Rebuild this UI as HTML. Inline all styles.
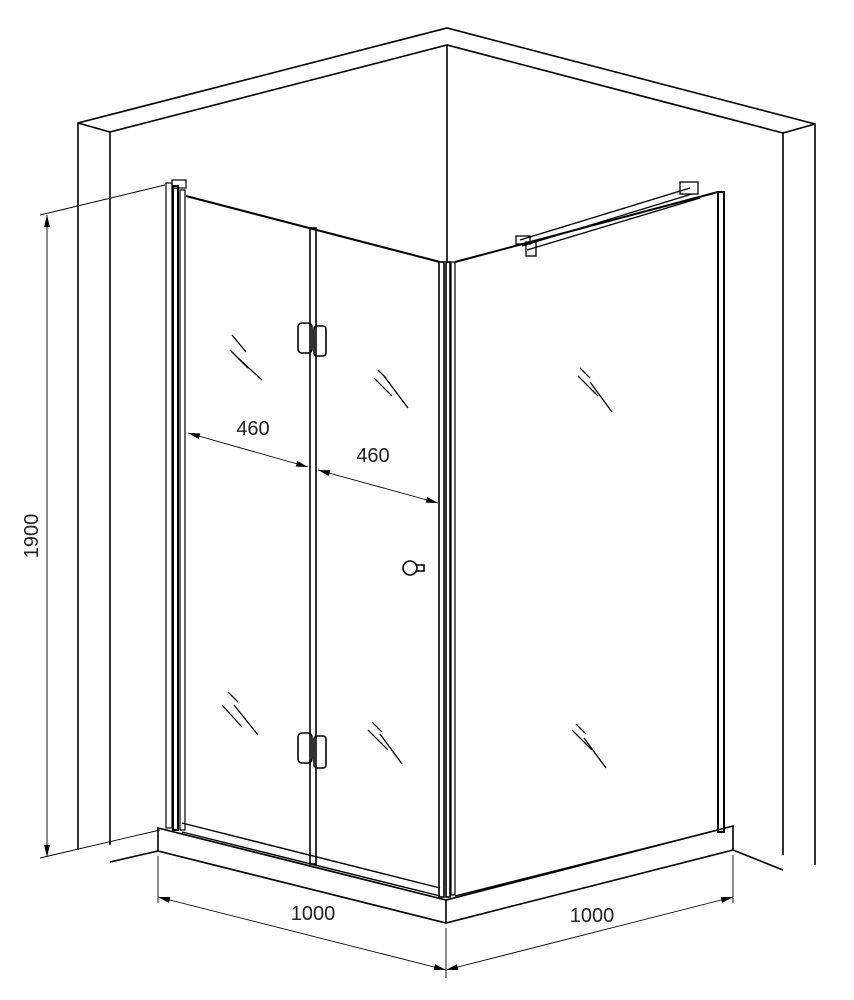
<!DOCTYPE html>
<html><head><meta charset="utf-8"><style>html,body{margin:0;padding:0;background:#fff}svg{display:block}</style></head>
<body>
<svg width="854" height="1000" viewBox="0 0 854 1000" xmlns="http://www.w3.org/2000/svg" font-family="Liberation Sans, sans-serif">
<defs>
<marker id="a" markerWidth="12" markerHeight="8" refX="12" refY="4" orient="auto" markerUnits="userSpaceOnUse"><path d="M0,1 L12,4 L0,7 Z" fill="#000"/></marker>
<marker id="b" markerWidth="12" markerHeight="8" refX="0" refY="4" orient="auto" markerUnits="userSpaceOnUse"><path d="M12,1 L0,4 L12,7 Z" fill="#000"/></marker>
</defs>
<g fill="none" stroke="#000" stroke-width="1.6">
<!-- walls -->
<path d="M78,850 L78,123 L447,28 L815,124 L815,865"/>
<path d="M110,845 L110,132 L447,45 L783,133 L783,855"/>
<path d="M78,123 L110,132 M815,124 L783,133"/>
<line x1="447" y1="45" x2="447" y2="262"/>
<!-- tray -->
<path d="M158,828 L446,900 L733,826 L733,850 L446,923 L158,851 Z"/>
<line x1="446" y1="900" x2="446" y2="923"/>
<line x1="158" y1="851" x2="110" y2="862"/>
<line x1="733" y1="850" x2="783" y2="870"/>
<!-- left posts -->
<rect x="166" y="183" width="6" height="645" stroke-width="1.2"/>
<rect x="173" y="186" width="5" height="644" stroke-width="2"/>
<rect x="180" y="190" width="5" height="640" stroke-width="1.2"/>
<rect x="172" y="180" width="14" height="8" stroke-width="1.2"/>
<!-- top rails -->
<path d="M186,196 L440,262" stroke-width="2"/>
<path d="M455,262 L718,192" stroke-width="2"/>
<!-- middle hinge post -->
<rect x="310" y="228" width="6" height="636" stroke-width="1.6"/>
<!-- corner post -->
<rect x="439" y="262" width="5" height="635" stroke-width="1.6"/>
<rect x="446" y="262" width="4" height="635" stroke-width="1.6"/>
<rect x="451" y="262" width="4" height="633" stroke-width="1.2"/>
<!-- right post -->
<rect x="718" y="192" width="6" height="640" stroke-width="2"/>
<!-- bottom rails -->
<path d="M182,823 L440,888 M182,832 L440,896" stroke-width="1.4"/>
<path d="M455,896 L718,830" stroke-width="1.4"/>
<!-- stabilizer bar -->
<path d="M520,240 L690,188 M522,246 L692,194 M527,250 L700,198" stroke-width="1.3"/>
<rect x="516" y="236" width="14" height="8" stroke-width="1.3"/>
<rect x="526" y="242" width="10" height="14" stroke-width="1.3"/>
<rect x="680" y="182" width="18" height="12" stroke-width="1.3"/>
<!-- hinges -->
<rect x="298" y="323" width="14" height="30" rx="4"/>
<rect x="314" y="326" width="12" height="30" rx="3"/>
<rect x="298" y="733" width="14" height="30" rx="4"/>
<rect x="314" y="736" width="12" height="32" rx="3"/>
<!-- knob -->
<circle cx="410" cy="568" r="7"/>
<path d="M416,565 L424,565 L424,571 L416,571"/>
<!-- reflections -->
<g stroke-width="1.3">
<path d="M230,350 L248,368 M238,358 L262,380 M232,335 L246,352"/>
<path d="M374,378 L392,396 M384,376 L408,408 M378,370 L386,378"/>
<path d="M578,376 L598,396 M590,382 L612,412 M580,368 L590,378"/>
<path d="M222,705 L242,727 M234,705 L258,735 M228,692 L238,702"/>
<path d="M368,730 L388,750 M380,734 L402,764 M372,722 L382,732"/>
<path d="M572,730 L592,750 M584,738 L606,768 M576,724 L586,734"/>
</g>
</g>
<!-- dimensions -->
<g stroke="#000" stroke-width="0.9" fill="none">
<line x1="40" y1="215" x2="165" y2="185"/>
<line x1="40" y1="858" x2="160" y2="830"/>
<line x1="47" y1="215" x2="47" y2="857" marker-start="url(#b)" marker-end="url(#a)"/>
<line x1="158" y1="856" x2="158" y2="903"/>
<line x1="446" y1="928" x2="446" y2="978"/>
<line x1="733" y1="855" x2="733" y2="903"/>
<line x1="158" y1="897" x2="446" y2="970" marker-start="url(#b)" marker-end="url(#a)"/>
<line x1="446" y1="970" x2="733" y2="897" marker-start="url(#b)" marker-end="url(#a)"/>
<line x1="188" y1="433" x2="308" y2="467" marker-start="url(#b)" marker-end="url(#a)"/>
<line x1="318" y1="470" x2="438" y2="503" marker-start="url(#b)" marker-end="url(#a)"/>
</g>
<g font-size="20" fill="#222">
<text x="253" y="435" text-anchor="middle">460</text>
<text x="373" y="462" text-anchor="middle">460</text>
<text x="313" y="920" text-anchor="middle">1000</text>
<text x="592" y="922" text-anchor="middle">1000</text>
<text transform="translate(38,536) rotate(-90)" text-anchor="middle">1900</text>
</g>
</svg>
</body></html>
